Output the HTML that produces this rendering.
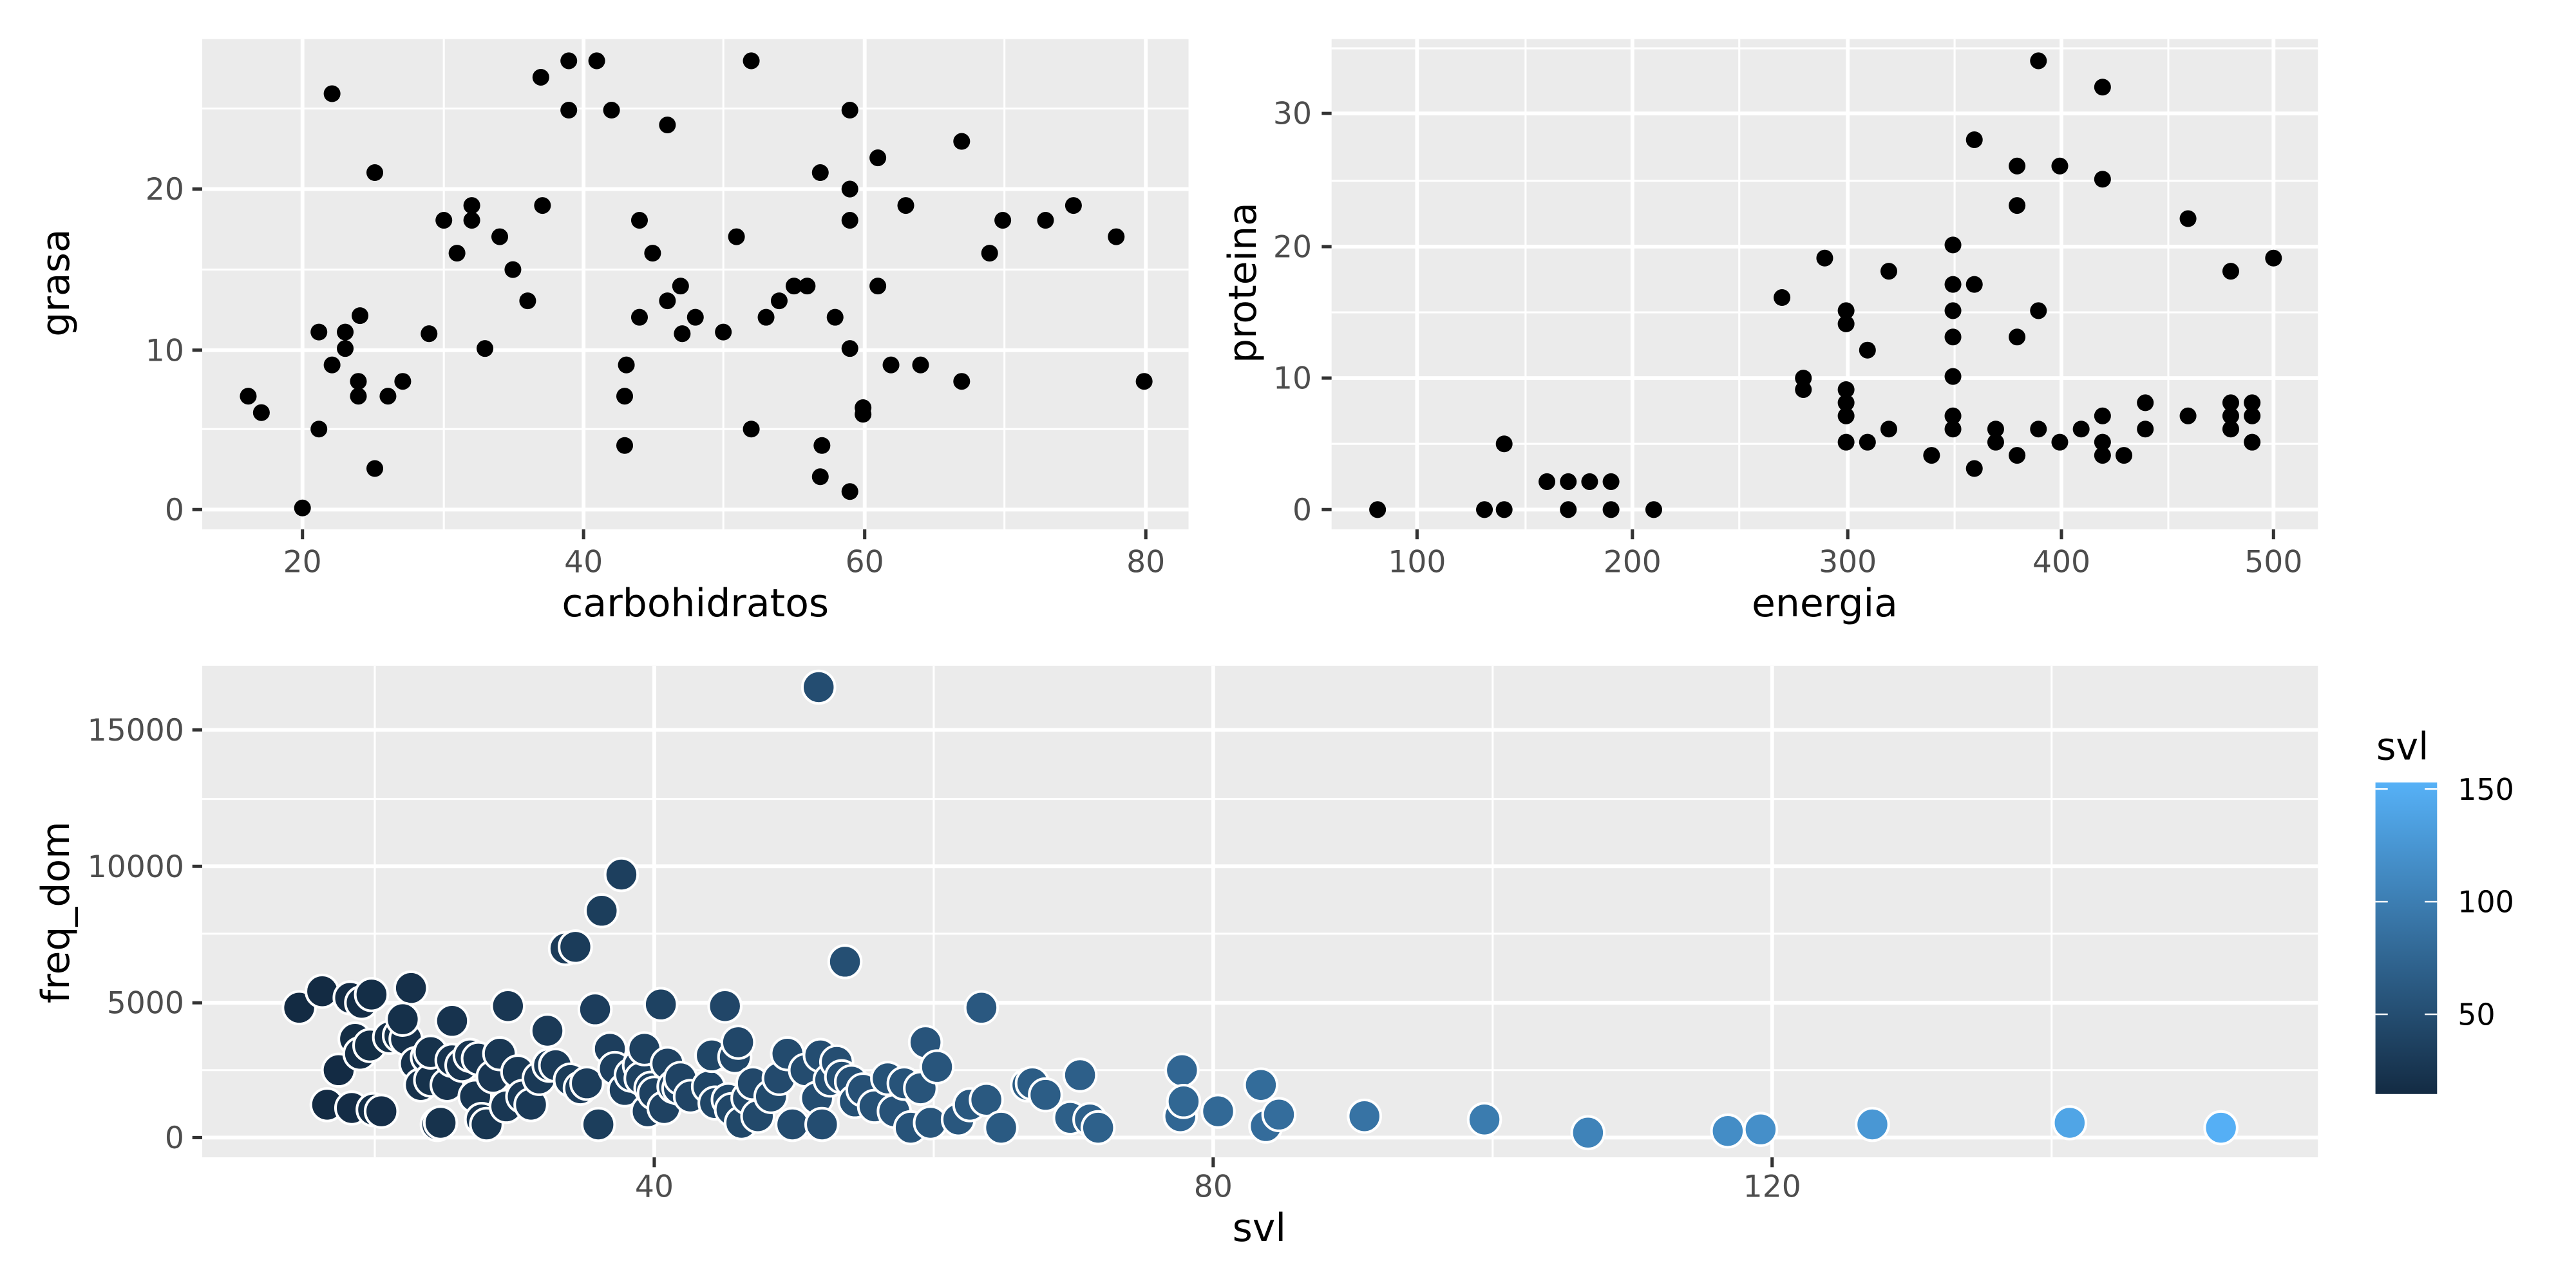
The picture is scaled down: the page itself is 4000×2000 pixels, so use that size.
<!DOCTYPE html>
<html><head><meta charset="utf-8"><style>html,body{margin:0;padding:0;background:#fff}svg{display:block}</style></head>
<body>
<svg id="s" xmlns="http://www.w3.org/2000/svg" width="4000" height="2000" viewBox="0 0 1567 783.5" preserveAspectRatio="none" font-family="DejaVu Sans, Liberation Sans, sans-serif">
<defs><linearGradient id="g" x1="0" y1="1" x2="0" y2="0"><stop offset="0" stop-color="#132B43"/><stop offset="1" stop-color="#56B1F7"/></linearGradient></defs>
<rect width="1567" height="783.5" fill="#fff"/>
<g id="p1">
<rect x="123" y="23.8" width="600" height="298.2" fill="#EBEBEB"/>
<g stroke="#fff" stroke-width="1.2"><line x1="270" x2="270" y1="23.8" y2="322"/><line x1="440" x2="440" y1="23.8" y2="322"/><line x1="611" x2="611" y1="23.8" y2="322"/><line x1="123" x2="723" y1="261" y2="261"/><line x1="123" x2="723" y1="164" y2="164"/><line x1="123" x2="723" y1="66" y2="66"/></g>
<g stroke="#fff" stroke-width="2.3"><line x1="184" x2="184" y1="23.8" y2="322"/><line x1="355" x2="355" y1="23.8" y2="322"/><line x1="526" x2="526" y1="23.8" y2="322"/><line x1="697" x2="697" y1="23.8" y2="322"/><line x1="123" x2="723" y1="310" y2="310"/><line x1="123" x2="723" y1="213" y2="213"/><line x1="123" x2="723" y1="115" y2="115"/></g>
<g stroke="#333" stroke-width="2"><path d="M184 322v6M355 322v6M526 322v6M697 322v6M123 310h-6M123 213h-6M123 115h-6"/></g>
<g fill="#000" id="d1"></g>
<g fill="#4D4D4D" font-size="18.5"><text x="184" y="348" text-anchor="middle">20</text><text x="355" y="348" text-anchor="middle">40</text><text x="526" y="348" text-anchor="middle">60</text><text x="697" y="348" text-anchor="middle">80</text>
<text x="112" y="316.5" text-anchor="end">0</text><text x="112" y="219.5" text-anchor="end">10</text><text x="112" y="121.5" text-anchor="end">20</text></g>
<text x="423" y="375" font-size="23.5" text-anchor="middle">carbohidratos</text>
<text transform="translate(42,172) rotate(-90)" font-size="23.5" text-anchor="middle">grasa</text>
</g>
<g id="p2">
<rect x="810" y="23.8" width="600" height="298.2" fill="#EBEBEB"/>
<g stroke="#fff" stroke-width="1.2"><line x1="928" x2="928" y1="23.8" y2="322"/><line x1="1058" x2="1058" y1="23.8" y2="322"/><line x1="1189" x2="1189" y1="23.8" y2="322"/><line x1="1319" x2="1319" y1="23.8" y2="322"/><line x1="810" x2="1410" y1="270" y2="270"/><line x1="810" x2="1410" y1="190" y2="190"/><line x1="810" x2="1410" y1="110" y2="110"/><line x1="810" x2="1410" y1="29.4" y2="29.4"/></g>
<g stroke="#fff" stroke-width="2.3"><line x1="862" x2="862" y1="23.8" y2="322"/><line x1="993" x2="993" y1="23.8" y2="322"/><line x1="1124" x2="1124" y1="23.8" y2="322"/><line x1="1254" x2="1254" y1="23.8" y2="322"/><line x1="1383" x2="1383" y1="23.8" y2="322"/><line x1="810" x2="1410" y1="310" y2="310"/><line x1="810" x2="1410" y1="230" y2="230"/><line x1="810" x2="1410" y1="150" y2="150"/><line x1="810" x2="1410" y1="69" y2="69"/></g>
<g stroke="#333" stroke-width="2"><path d="M862 322v6M993 322v6M1124 322v6M1254 322v6M1383 322v6M810 310h-6M810 230h-6M810 150h-6M810 69h-6"/></g>
<g fill="#000" id="d2"></g>
<g fill="#4D4D4D" font-size="18.5"><text x="862" y="348" text-anchor="middle">100</text><text x="993" y="348" text-anchor="middle">200</text><text x="1124" y="348" text-anchor="middle">300</text><text x="1254" y="348" text-anchor="middle">400</text><text x="1383" y="348" text-anchor="middle">500</text>
<text x="798" y="316.5" text-anchor="end">0</text><text x="798" y="236.5" text-anchor="end">10</text><text x="798" y="156.5" text-anchor="end">20</text><text x="798" y="75.5" text-anchor="end">30</text></g>
<text x="1110" y="375" font-size="23.5" text-anchor="middle">energia</text>
<text transform="translate(764,172) rotate(-90)" font-size="23.5" text-anchor="middle">proteina</text>
</g>
<g id="p3">
<rect x="123" y="405" width="1287" height="299" fill="#EBEBEB"/>
<g stroke="#fff" stroke-width="1.2"><line x1="228" x2="228" y1="405" y2="704"/><line x1="568" x2="568" y1="405" y2="704"/><line x1="908" x2="908" y1="405" y2="704"/><line x1="1248" x2="1248" y1="405" y2="704"/><line x1="123" x2="1410" y1="651" y2="651"/><line x1="123" x2="1410" y1="568" y2="568"/><line x1="123" x2="1410" y1="486" y2="486"/></g>
<g stroke="#fff" stroke-width="2.3"><line x1="398" x2="398" y1="405" y2="704"/><line x1="738" x2="738" y1="405" y2="704"/><line x1="1078" x2="1078" y1="405" y2="704"/><line x1="123" x2="1410" y1="692" y2="692"/><line x1="123" x2="1410" y1="610" y2="610"/><line x1="123" x2="1410" y1="527" y2="527"/><line x1="123" x2="1410" y1="444" y2="444"/></g>
<g stroke="#333" stroke-width="2"><path d="M398 704v6M738 704v6M1078 704v6M123 692h-6M123 610h-6M123 527h-6M123 444h-6"/></g>
<g id="d3" stroke="#fff" stroke-width="1.6"></g>
<g fill="#4D4D4D" font-size="18.5"><text x="398" y="728" text-anchor="middle">40</text><text x="738" y="728" text-anchor="middle">80</text><text x="1078" y="728" text-anchor="middle">120</text>
<text x="112" y="698.5" text-anchor="end">0</text><text x="112" y="616.5" text-anchor="end">5000</text><text x="112" y="533.5" text-anchor="end">10000</text><text x="112" y="450.5" text-anchor="end">15000</text></g>
<text x="766" y="755" font-size="23.5" text-anchor="middle">svl</text>
<text transform="translate(42,555) rotate(-90)" font-size="23.5" text-anchor="middle">freq_dom</text>
<text x="1445.5" y="462" font-size="23">svl</text>
<rect x="1445" y="476" width="37.5" height="189.5" fill="url(#g)"/>
<g stroke="#fff" stroke-width="1"><line x1="1445" x2="1452.5" y1="480" y2="480"/><line x1="1475" x2="1482.5" y1="480" y2="480"/><line x1="1445" x2="1452.5" y1="548.5" y2="548.5"/><line x1="1475" x2="1482.5" y1="548.5" y2="548.5"/><line x1="1445" x2="1452.5" y1="617" y2="617"/><line x1="1475" x2="1482.5" y1="617" y2="617"/></g>
<g font-size="18" fill="#000"><text x="1495" y="486.5">150</text><text x="1495" y="555">100</text><text x="1495" y="623.5">50</text></g>
</g>
<script>
var ns="http://www.w3.org/2000/svg";
function add(id,pts,r,col){var g=document.getElementById(id);pts.forEach(function(p){var c=document.createElementNS(ns,"circle");c.setAttribute("cx",p[0]);c.setAttribute("cy",p[1]);c.setAttribute("r",r);if(col)c.setAttribute("fill",col(p[0]));g.appendChild(c);});}
add("d1",[[151,241],[159,251],[184,309],[194,261],[194,202],[202,57],[202,222],[210,212],[210,202],[218,232],[218,241],[219,192],[228,105],[228,285],[236,241],[245,232],[261,203],[270,134],[278,154],[287,125],[287,134],[295,212],[304,144],[312,164],[321,183],[329,47],[330,125],[346,37],[346,67],[363,37],[372,67],[380,271],[380,241],[381,222],[389,134],[389,193],[397,154],[406,76],[406,183],[414,174],[415,203],[423,193],[440,202],[448,144],[457,37],[457,261],[466,193],[474,183],[483,174],[491,174],[499,290],[499,105],[500,271],[508,193],[517,299],[517,115],[517,134],[517,212],[517,67],[525,248],[525,252],[534,96],[534,174],[542,222],[551,125],[560,222],[585,86],[585,232],[602,154],[610,134],[636,134],[653,125],[679,144],[696,232]],5.1);
add("d2",[[838,310],[903,310],[915,310],[915,270],[941,293],[954,293],[954,310],[967,293],[980,293],[980,310],[1006,310],[1084,181],[1097,230],[1097,237],[1110,157],[1123,189],[1123,197],[1123,245],[1123,237],[1123,253],[1123,269],[1136,269],[1136,213],[1149,165],[1149,261],[1175,277],[1188,149],[1188,173],[1188,189],[1188,205],[1188,229],[1188,253],[1188,261],[1201,85],[1201,173],[1201,285],[1214,261],[1214,269],[1227,101],[1227,125],[1227,205],[1227,277],[1240,37],[1240,189],[1240,261],[1253,101],[1253,269],[1266,261],[1279,53],[1279,109],[1279,253],[1279,269],[1279,277],[1292,277],[1305,245],[1305,261],[1331,133],[1331,253],[1357,165],[1357,245],[1357,253],[1357,261],[1370,245],[1370,253],[1370,269],[1383,157]],5.1);
function col(x){var s=40+(x-398)/8.5;var t=(s-17)/(154-17);t=Math.max(0,Math.min(1,t));var a=[0x13,0x2B,0x43],b=[0x56,0xB1,0xF7];return "rgb("+a.map(function(v,i){return Math.round(v+(b[i]-v)*t)}).join(",")+")";}
add("d3",[[182,613],[196,603],[199,672],[206,651],[213,607],[214,674],[216,632],[219,641],[220,610],[225,636],[226,605],[227,675],[232,676],[237,631],[243,630],[247,632],[250,601],[245,620],[253,647],[256,660],[260,643],[262,657],[262,640],[266,684],[268,683],[272,660],[275,621],[275,645],[281,648],[286,642],[289,667],[291,644],[293,681],[296,684],[300,655],[304,641],[308,673],[309,612],[315,652],[318,667],[323,672],[328,656],[333,627],[334,648],[338,648],[344,577],[350,576],[347,657],[353,662],[357,659],[362,614],[364,684],[366,554],[371,638],[374,650],[378,532],[380,663],[384,654],[389,648],[390,656],[392,638],[396,662],[394,676],[398,665],[402,611],[404,674],[406,647],[410,661],[413,662],[414,656],[420,667],[431,661],[433,642],[435,671],[441,612],[443,669],[445,675],[447,643],[449,634],[451,683],[455,668],[458,659],[461,679],[469,667],[474,656],[479,641],[482,684],[490,651],[497,668],[498,418],[499,642],[500,684],[505,657],[509,646],[512,655],[514,585],[518,658],[520,670],[525,663],[532,673],[540,656],[544,676],[550,659],[554,686],[560,662],[563,634],[566,683],[570,649],[583,681],[590,672],[597,613],[600,669],[609,686],[625,660],[628,659],[636,666],[651,680],[657,654],[663,681],[668,686],[718,679],[719,651],[720,670],[741,676],[767,660],[770,685],[778,678],[830,679],[903,681],[966,689],[1051,688],[1071,687],[1139,684],[1259,683],[1351,686]],9.9,col);
</script>
</svg>
</body></html>
